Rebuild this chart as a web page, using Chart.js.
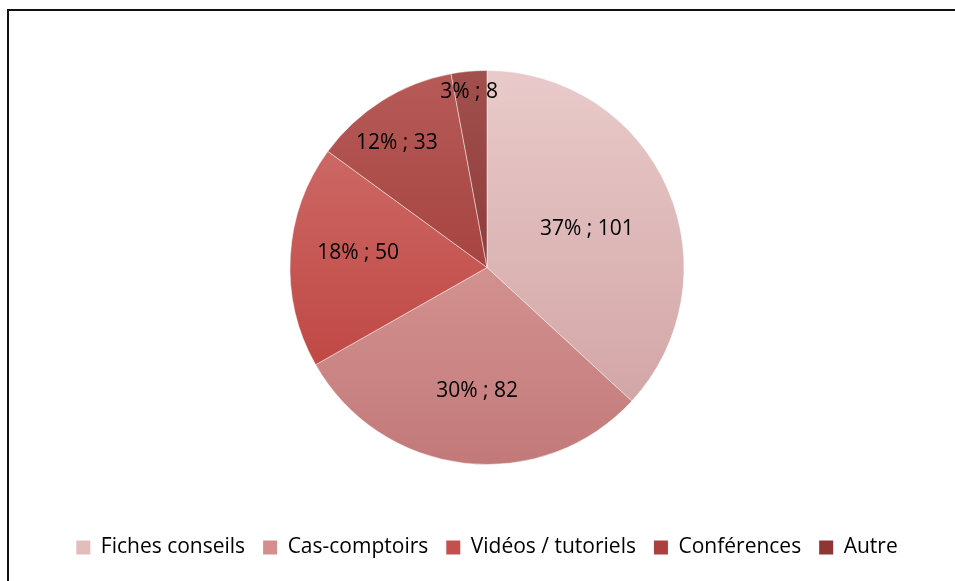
<!DOCTYPE html>
<html>
<head>
<meta charset="utf-8">
<script src="https://cdn.jsdelivr.net/npm/chart.js@4.4.1/dist/chart.umd.min.js"></script>
<style>
  html, body { margin: 0; padding: 0; background: #fff; overflow: hidden; }
  #wrap { position: relative; width: 955px; height: 581px; }
  #frame { position: absolute; left: 7px; top: 9px; width: 1200px; height: 1200px;
           border-top: 2px solid #111; border-left: 2px solid #111; pointer-events: none; }
  canvas { position: absolute; left: 0; top: 0; }
</style>
</head>
<body>
<div id="wrap">
  <canvas id="pieChart" width="955" height="581"></canvas>
  <div id="frame"></div>
</div>
<script>
// Daten
const categories = ['Fiches conseils', 'Cas-comptoirs', 'Vidéos / tutoriels', 'Conférences', 'Autre'];
const values = [101, 82, 50, 33, 8];
const percentLabels = ['37%', '30%', '18%', '12%', '3%'];

// Farben (oben hell -> unten dunkel)
const colorsTop = ['#e9caca', '#e2a7a6', '#d0736f', '#b75b58', '#a1504e'];
const colorsBottom = ['#cf9f9f', '#c27a79', '#bb3a37', '#952d2a', '#7d2927'];
const legendColors = ['#e3bcbc', '#d48e8d', '#c44f4c', '#ab413e', '#8f3533'];
// Lage der Beschriftung: Anteil des Radius und Winkelversatz (Grad)
const labelRadius = [0.544, 0.631, 0.659, 0.782, 0.893];
const labelAngleShift = [2.5, -2.0, 3.3, -3.6, -0.6];

const FONT = '"Open Sans", sans-serif';
const PIE_RADIUS = 197;

function sliceGradient(context) {
    const chart = context.chart;
    const area = chart.chartArea;
    const i = context.dataIndex;
    if (!area) return legendColors[i];
    const cy = (area.top + area.bottom) / 2;
    const g = chart.ctx.createLinearGradient(0, cy - PIE_RADIUS, 0, cy + PIE_RADIUS);
    g.addColorStop(0, colorsTop[i]);
    g.addColorStop(1, colorsBottom[i]);
    return g;
}

// Beschriftungen "xx% ; n" in die Segmente schreiben
const sliceLabels = {
    id: 'sliceLabels',
    afterDatasetsDraw(chart) {
        const ctx = chart.ctx;
        const arcs = chart.getDatasetMeta(0).data;
        ctx.save();
        ctx.font = '21px ' + FONT;
        ctx.fillStyle = '#000';
        ctx.textAlign = 'center';
        ctx.textBaseline = 'middle';
        arcs.forEach((arc, i) => {
            const p = arc.getProps(['x', 'y', 'startAngle', 'endAngle', 'outerRadius'], true);
            const mid = (p.startAngle + p.endAngle) / 2 + labelAngleShift[i] * Math.PI / 180;
            const d = p.outerRadius * labelRadius[i];
            ctx.fillText(percentLabels[i] + ' ; ' + values[i], p.x + Math.cos(mid) * d, p.y + Math.sin(mid) * d);
        });
        ctx.restore();
    }
};

new Chart(document.getElementById('pieChart'), {
    type: 'pie',
    data: {
        labels: categories,
        datasets: [{
            data: values,
            backgroundColor: sliceGradient,
            borderColor: 'rgba(255,255,255,0.45)',
            borderWidth: 1,
            radius: PIE_RADIUS
        }]
    },
    options: {
        responsive: false,
        animation: false,
        layout: {
            padding: { top: 16, left: 19, right: 0, bottom: 13 }
        },
        plugins: {
            tooltip: { enabled: false },
            legend: {
                position: 'bottom',
                labels: {
                    boxWidth: 14,
                    boxHeight: 14,
                    padding: 18,
                    color: '#000',
                    font: { family: FONT, size: 21 },
                    generateLabels(chart) {
                        return categories.map((c, i) => ({
                            text: c,
                            fillStyle: legendColors[i],
                            strokeStyle: legendColors[i],
                            lineWidth: 0,
                            index: i
                        }));
                    }
                }
            }
        }
    },
    plugins: [sliceLabels]
});
</script>
</body>
</html>
